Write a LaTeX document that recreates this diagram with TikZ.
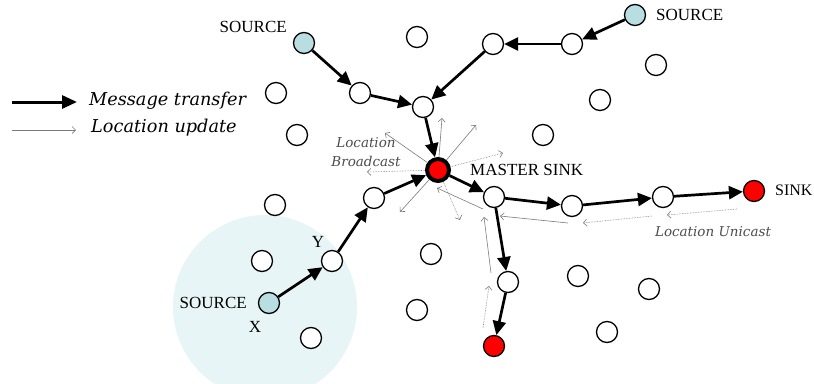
\documentclass[tikz,border=0pt]{standalone}
\usepackage{fontspec}
\setmainfont{Liberation Serif}
\newfontfamily\notefont{DejaVu Serif}
\usetikzlibrary{arrows.meta}
\definecolor{srcblue}{HTML}{B9DEE2}
\definecolor{zoneblue}{HTML}{E8F5F7}
\definecolor{updgray}{HTML}{7A7A7A}
\begin{document}
\begin{tikzpicture}[x=1pt,y=-1pt,
  nd/.style={circle,draw,line width=1.3pt,minimum size=21pt,inner sep=0pt,fill=white},
  src/.style={nd,fill=srcblue},
  snk/.style={nd,fill=red},
  master/.style={circle,draw,line width=4pt,minimum size=22pt,inner sep=0pt,fill=red},
  msg/.style={line width=2.7pt,-{Triangle[length=14pt,width=13pt]}},
  upd/.style={draw=updgray,line width=0.6pt,-{Straight Barb[length=3.5pt,width=7pt]}},
  updd/.style={upd,densely dotted},
  lbl/.style={font=\fontsize{17}{20}\selectfont,inner sep=0pt},
  legend/.style={font=\notefont\itshape\fontsize{17.7}{20}\selectfont,inner sep=0pt},
  note/.style={font=\notefont\itshape\fontsize{13.5}{19}\selectfont,text=black!70,inner sep=0pt},
]
\useasboundingbox (0,0) rectangle (814,383);
\clip (0,0) rectangle (814,383);

% radio range of the source X
\fill[zoneblue] (265,307) circle (92pt);

% idle sensor nodes
\foreach \p [count=\i] in {(417,37),(656,65),(600,100),(543,135),(276,93),(297,135),
  (275,205),(262,261),(311,338),(431,254),(417,310),(578,276),(649,289),(607,332)}
  \node[nd] (idle\i) at \p {};

% nodes on the message paths
\node[src] (s1) at (304,43) {};
\node[nd] (a1) at (360,93) {};
\node[nd] (a2) at (423,107) {};
\node[src] (s2) at (635,15) {};
\node[nd] (b1) at (572,44) {};
\node[nd] (b2) at (493,44) {};
\node[master] (ms) at (438,170) {};
\node[src] (x) at (269,303) {};
\node[nd] (y) at (332,261) {};
\node[nd] (c1) at (374,198) {};
\node[nd] (d1) at (494,197) {};
\node[nd] (d2) at (572,206) {};
\node[nd] (d3) at (663,197) {};
\node[snk] (k1) at (754,191) {};
\node[nd] (e1) at (508,282) {};
\node[snk] (k2) at (494,346) {};

% message transfer
\draw[msg] (s1) -- (a1);
\draw[msg] (a1) -- (a2);
\draw[msg] (s2) -- (b1);
\draw[msg] (b1) -- (b2);
\draw[msg] (b2) -- (a2);
\draw[msg] (a2) -- (ms);
\draw[msg] (x) -- (y);
\draw[msg] (y) -- (c1);
\draw[msg] (c1) -- (ms);
\draw[msg] (ms) -- (d1);
\draw[msg] (d1) -- (d2);
\draw[msg] (d2) -- (d3);
\draw[msg] (d3) -- (k1);
\draw[msg] (d1) -- (e1);
\draw[msg] (e1) -- (k2);

% location broadcast from the master sink
\coordinate (r1) at (442,118);
\coordinate (r2) at (476,125);
\coordinate (r3) at (503,153);
\coordinate (r4) at (385,133);
\coordinate (r5) at (367,172);
\coordinate (r6) at (400,212);
\coordinate (r7) at (460,220);
\draw[upd] (ms) -- (r1);
\draw[upd] (ms) -- (r2);
\draw[updd] (ms) -- (r3);
\draw[upd] (ms) -- (r4);
\draw[updd] (ms) -- (r5);
\draw[upd] (ms) -- (r6);
\draw[updd] (ms) -- (r7);

% location unicast back towards the master sink
\coordinate (u1a) at (737,209); \coordinate (u1b) at (667,215);
\coordinate (u2a) at (652,216); \coordinate (u2b) at (583,223);
\coordinate (u3a) at (568,223); \coordinate (u3b) at (500,216);
\coordinate (u4a) at (483,209); \coordinate (u4b) at (437,188);
\coordinate (v1a) at (483,328); \coordinate (v1b) at (489,286);
\coordinate (v2a) at (491,273); \coordinate (v2b) at (484,217);
\draw[updd] (u1a) -- (u1b);
\draw[updd] (u2a) -- (u2b);
\draw[upd] (u3a) -- (u3b);
\draw[upd] (u4a) -- (u4b);
\draw[updd] (v1a) -- (v1b);
\draw[upd] (v2a) -- (v2b);

% labels
\node[lbl,anchor=east] (t1) at (287,27) {SOURCE};
\node[lbl,anchor=west] (t2) at (656,15) {SOURCE};
\node[lbl,anchor=east] (t3) at (247,303) {SOURCE};
\node[lbl,anchor=west] (t4) at (470,170) {MASTER SINK};
\node[lbl,anchor=west,font=\fontsize{16}{20}\selectfont] (t5) at (775,190) {SINK};
\node[lbl] (ty) at (318,242) {Y};
\node[lbl] (tx) at (255,327) {X};
\node[note,align=center] (tb) at (366,152) {Location\\Broadcast};
\node[note] (tu) at (713,232) {Location Unicast};

% legend
\coordinate (la) at (12,102); \coordinate (lb) at (77,102);
\coordinate (lc) at (12,130); \coordinate (ld) at (76,130);
\draw[line width=3pt,-{Triangle[length=15pt,width=13pt]}] (la) -- (lb);
\draw[upd] (lc) -- (ld);
\node[legend,anchor=west] (lm) at (89,101) {Message transfer};
\node[legend,anchor=west] (ll) at (91,128) {Location update};
\end{tikzpicture}
\end{document}
